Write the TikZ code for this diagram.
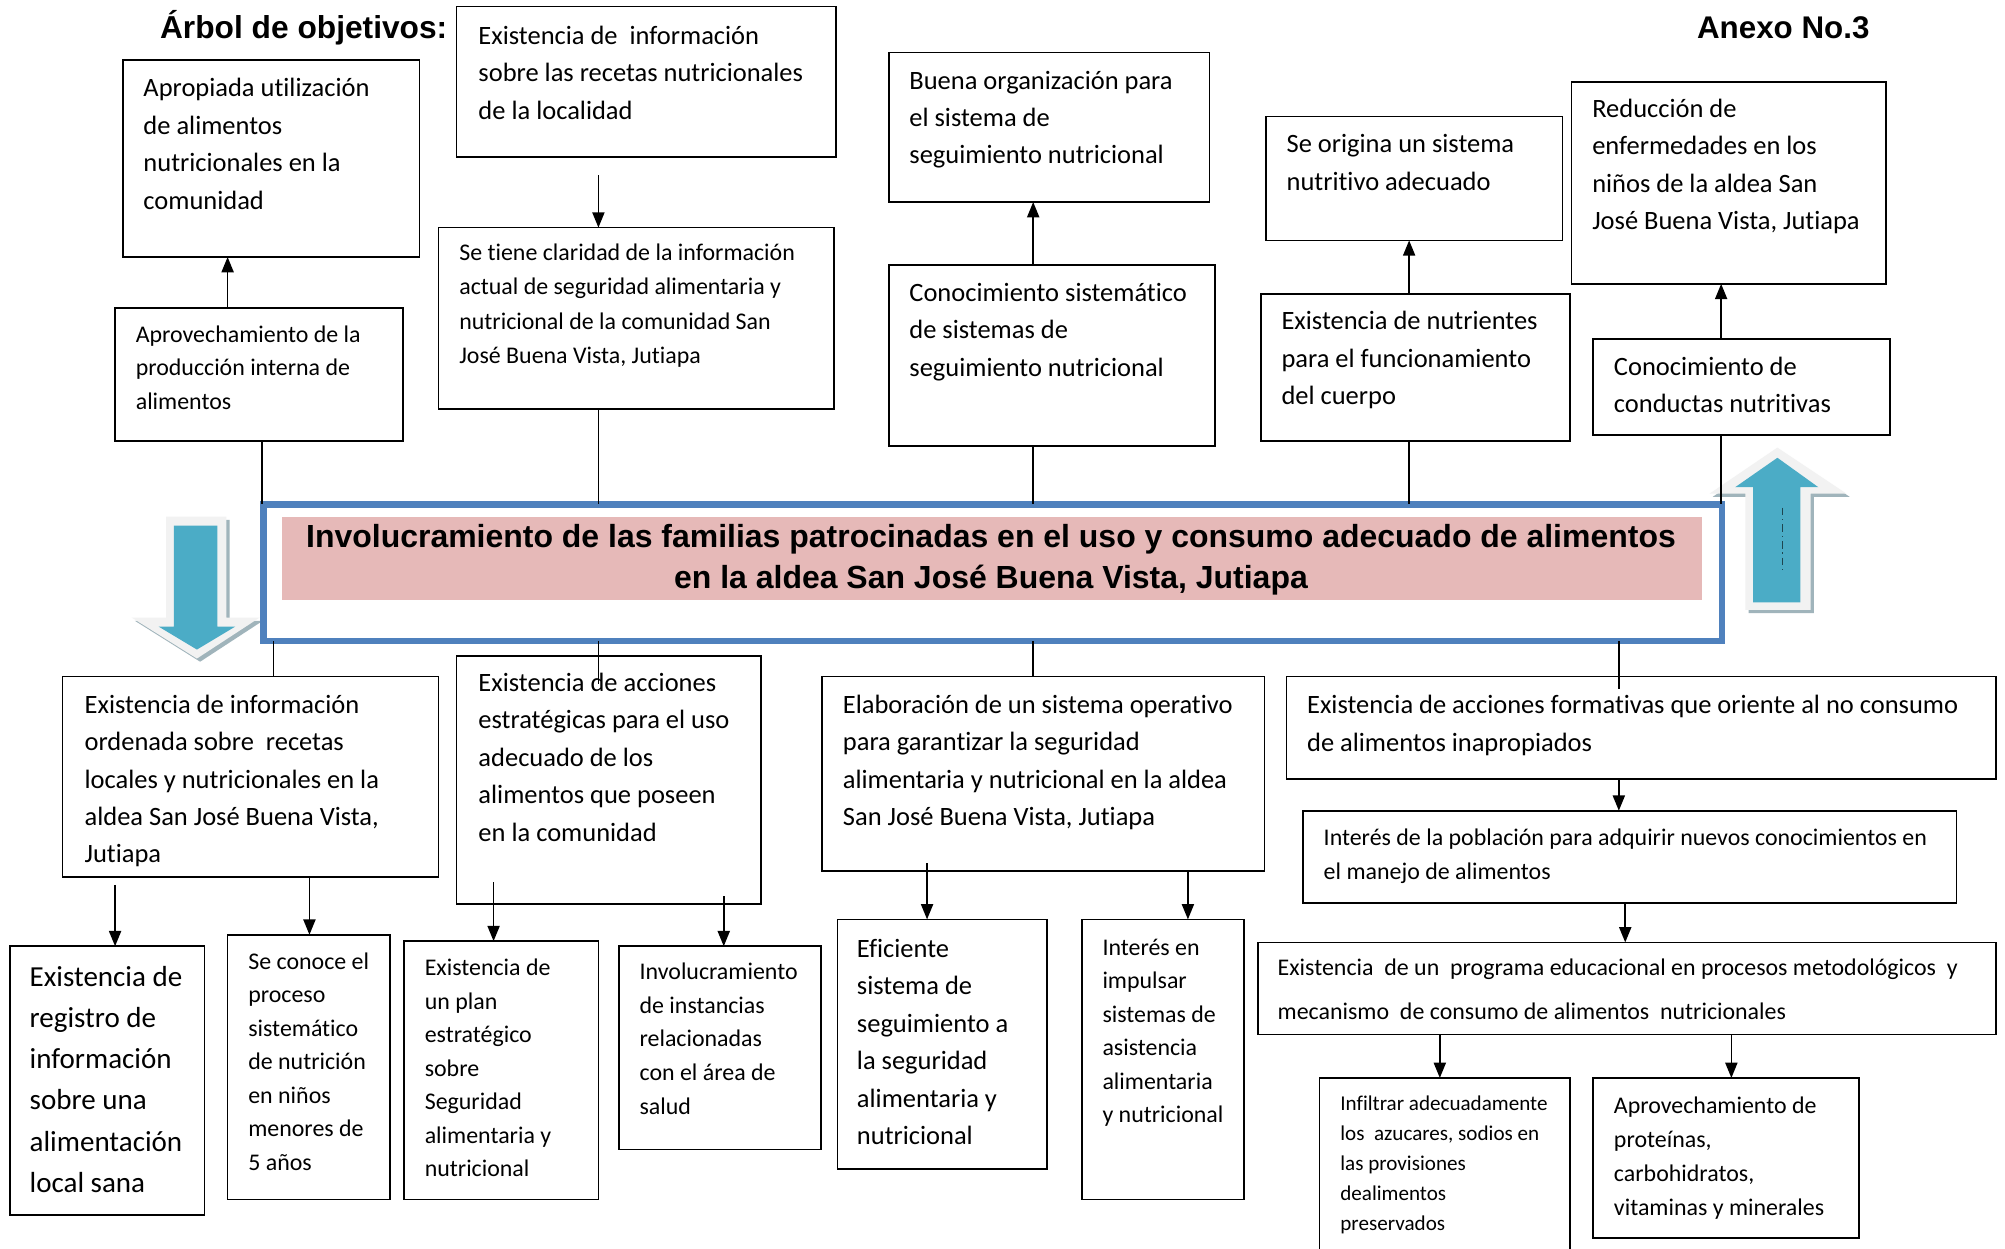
\documentclass[tikz,border=0pt]{standalone}
\usepackage{fontspec}
\setmainfont{Carlito}[Ligatures=NoCommon]
\newfontfamily\arialf{Liberation Sans}
\usetikzlibrary{arrows.meta}
\definecolor{bord}{RGB}{79,129,189}
\definecolor{pinkf}{RGB}{230,185,184}
\definecolor{arrblue}{RGB}{75,172,198}
\definecolor{arrout}{RGB}{242,242,242}
\definecolor{arrshadow}{RGB}{160,180,187}
\definecolor{dashc}{RGB}{30,70,80}
\newcommand\mybox[5]{\pgfmathsetmacro\mybw{#4-#2}\pgfmathsetmacro\mybh{#5-#3}%
  \node[boxst, minimum width=\mybw pt, minimum height=\mybh pt] (#1) at (#2,#3) {};}
\newcommand\mytext[6]{\pgfmathsetmacro\mytop{#3-0.54*#4}%
  \node[txtst, font=\fontsize{#4}{#5}\selectfont] (#1) at (#2,\mytop) {\rule{0pt}{0.9em}#6};}
\begin{document}
\begin{tikzpicture}[x=1pt,y=-1pt,
  boxst/.style={draw, line width=1.3pt, inner sep=0pt, outer sep=0pt, anchor=north west},
  txtst/.style={inner sep=0pt, anchor=north west, align=left},
  arr/.style={line width=1.3pt, -{Triangle[length=12pt,width=9.5pt]}},
  ln/.style={line width=1.3pt}]
\useasboundingbox[fill=white] (0,0) rectangle (1568,976);

% titles
\node[anchor=base west, inner sep=0pt, font=\arialf\bfseries\fontsize{24.8}{28}\selectfont] (titulo) at (125,30) {Árbol de objetivos:};
\node[anchor=base west, inner sep=0pt, font=\arialf\bfseries\fontsize{24.5}{28}\selectfont] (anexo) at (1327,30) {Anexo No.3};

% 3D block arrows
\fill[arrshadow] (132.5,406.5) -- (179.5,406.5) -- (179.5,485.5) -- (205.5,485.5) -- (156.5,517.5) -- (105.5,485.5) -- (132.5,485.5) -- cycle;
\fill[arrout] (130,404) -- (177,404) -- (177,483) -- (203,483) -- (154,515) -- (103,483) -- (130,483) -- cycle;
\fill[arrblue] (136,411) -- (170,411) -- (170,490) -- (184,490) -- (154,508) -- (124,490) -- (136,490) -- cycle;

\fill[arrshadow] (1392.5,352.5) -- (1446.5,388.5) -- (1418.5,388.5) -- (1418.5,479.5) -- (1367.5,479.5) -- (1367.5,388.5) -- (1339.5,388.5) -- cycle;
\fill[arrout] (1390,350) -- (1444,386) -- (1416,386) -- (1416,477) -- (1365,477) -- (1365,386) -- (1337,386) -- cycle;
\fill[arrblue] (1390,358) -- (1422,381) -- (1408,381) -- (1408,471) -- (1371,471) -- (1371,381) -- (1357,381) -- cycle;
\draw[line width=0.8pt, dashc, dash pattern=on 6pt off 3pt on 1pt off 3pt] (1394,397) -- (1394,446);

% central problem box
\node[draw=bord, line width=5pt, inner sep=0pt, outer sep=0pt, anchor=north west, minimum width=1140.5pt, minimum height=107pt] (cent) at (206,394.5) {};
\node[fill=pinkf, inner sep=0pt, outer sep=0pt, anchor=north west, minimum width=1110.5pt, minimum height=65pt] (pink) at (220.5,404) {};
\node[anchor=north, inner sep=0pt, align=center, font=\arialf\bfseries\fontsize{25}{32}\selectfont] (ctext) at (775,405.5) {\rule{0pt}{0.9em}Involucramiento de las familias patrocinadas en el uso y consumo adecuado de alimentos\\en la aldea San José Buena Vista, Jutiapa};

% boxes
\mybox{a1}{96}{47}{328}{201}
\mybox{a2}{90}{241}{315}{345}
\mybox{b1}{357}{5}{654}{123}
\mybox{b2}{343}{178}{652}{320}
\mybox{c1}{695}{41}{946}{158}
\mybox{c2}{695}{207}{950}{349}
\mybox{d1}{990}{91}{1222}{188}
\mybox{d2}{986}{230}{1228}{345}
\mybox{e1}{1229}{64}{1475}{222}
\mybox{e2}{1246}{265}{1478}{340}
\mybox{f1}{49}{529}{343}{686}
\mybox{f2}{8}{740}{160}{950}
\mybox{f3}{178}{731}{305}{938}
\mybox{g1}{357}{513}{595}{707}
\mybox{g2}{316}{736}{468}{938}
\mybox{g3}{484}{740}{642}{899}
\mybox{h1}{643}{529}{989}{681}
\mybox{h2}{655}{719}{819}{914}
\mybox{h3}{846}{719}{973}{938}
\mybox{i1}{1006}{529}{1561}{609}
\mybox{i2}{1019}{634}{1530}{706}
\mybox{i3}{984}{737}{1561}{809}
\mybox{i4}{1032}{843}{1228}{995}
\mybox{i5}{1246}{843}{1454}{968}

% texts
\mytext{a1t}{112}{68}{20.7}{29.3}{Apropiada utilización\\de alimentos\\nutricionales en la\\comunidad}
\mytext{a2t}{106}{261}{18.7}{26}{Aprovechamiento de la\\producción interna de\\alimentos}
\mytext{b1t}{374}{27}{20.7}{29.3}{Existencia de~ información\\sobre las recetas nutricionales\\de la localidad}
\mytext{b2t}{359}{197}{18.7}{26.7}{Se tiene claridad de la información\\actual de seguridad alimentaria y\\nutricional de la comunidad San\\José Buena Vista, Jutiapa}
\mytext{c1t}{711}{62}{20.7}{29.3}{Buena organización para\\el sistema de\\seguimiento nutricional}
\mytext{c2t}{711}{228}{20.7}{29.3}{Conocimiento sistemático\\de sistemas de\\seguimiento nutricional}
\mytext{d1t}{1006}{112}{20.7}{29.3}{Se origina un sistema\\nutritivo adecuado}
\mytext{d2t}{1002}{250}{20.7}{29.5}{Existencia de nutrientes\\para el funcionamiento\\del cuerpo}
\mytext{e1t}{1245}{84}{20.7}{29.3}{Reducción de\\enfermedades en los\\niños de la aldea San\\José Buena Vista, Jutiapa}
\mytext{e2t}{1262}{286}{20.7}{29.3}{Conocimiento de\\conductas nutritivas}
\mytext{f1t}{66}{550}{20.7}{29.3}{Existencia de información\\ordenada sobre~ recetas\\locales y nutricionales en la\\aldea San José Buena Vista,\\Jutiapa}
\mytext{f2t}{23}{763}{22.7}{32.2}{Existencia de\\registro de\\información\\sobre una\\alimentación\\local sana}
\mytext{f3t}{194}{751}{18.7}{26.2}{Se conoce el\\proceso\\sistemático\\de nutrición\\en niños\\menores de\\5 años}
\mytext{g1t}{374}{533}{20.7}{29.3}{Existencia de acciones\\estratégicas para el uso\\adecuado de los\\alimentos que poseen\\en la comunidad}
\mytext{g2t}{332}{756}{18.7}{26.2}{Existencia de\\un plan\\estratégico\\sobre\\Seguridad\\alimentaria y\\nutricional}
\mytext{g3t}{500}{759}{18.7}{26.4}{Involucramiento\\de instancias\\relacionadas\\con el área de\\salud}
\mytext{h1t}{659}{550}{20.7}{29.3}{Elaboración de un sistema operativo\\para garantizar la seguridad\\alimentaria y nutricional en la aldea\\San José Buena Vista, Jutiapa}
\mytext{h2t}{670}{741}{20.7}{29.3}{Eficiente\\sistema de\\seguimiento a\\la seguridad\\alimentaria y\\nutricional}
\mytext{h3t}{862}{740}{18.7}{26.2}{Interés en\\impulsar\\sistemas de\\asistencia\\alimentaria\\y nutricional}
\mytext{i1t}{1022}{550}{20.7}{30}{Existencia de acciones formativas que oriente al no consumo\\de alimentos inapropiados}
\mytext{i2t}{1035}{654}{18.7}{26.7}{Interés de la población para adquirir nuevos conocimientos en\\el manejo de alimentos}
\mytext{i3t}{999}{756}{18.7}{34}{Existencia~ de un~ programa educacional en procesos metodológicos~ y\\mecanismo~ de consumo de alimentos~ nutricionales}
\mytext{i4t}{1048}{862}{16.5}{23.5}{Infiltrar adecuadamente\\los~ azucares, sodios en\\las provisiones\\dealimentos\\preservados}
\mytext{i5t}{1262}{864}{18.7}{26.6}{Aprovechamiento de\\proteínas,\\carbohidratos,\\vitaminas y minerales}

% x positions of connectors
\coordinate (xa) at (178,0);
\coordinate (xa2) at (205,0);
\coordinate (xb) at (468,0);
\coordinate (xc) at (808,0);
\coordinate (xd) at (1102,0);
\coordinate (xe) at (1346,0);
\coordinate (xf) at (214,0);
\coordinate (xi) at (1266,0);
\coordinate (xf2) at (90,0);
\coordinate (xf3) at (242,0);
\coordinate (xg2) at (386,0);
\coordinate (xg3) at (566,0);
\coordinate (xh2) at (725,0);
\coordinate (xh3) at (929,0);
\coordinate (xi3) at (1271,0);
\coordinate (xi4) at (1126,0);
\coordinate (xi5) at (1354,0);
% free ends
\coordinate (b1s) at (468,137);
\coordinate (g1in) at (468,535);
\coordinate (i1in) at (1266,539);
\coordinate (f1s) at (90,692);
\coordinate (g1s2) at (386,690);
\coordinate (g1s3) at (566,701);
\coordinate (h1s2) at (725,675);

% connectors, upper part
\draw[arr] (a2.north -| xa) -- (a1.south -| xa);
\draw[ln] (a2.south -| xa2) -- (cent.north -| xa2);
\draw[arr] (b1s) -- (b2.north -| xb);
\draw[ln] (b2.south -| xb) -- (cent.north -| xb);
\draw[arr] (c2.north -| xc) -- (c1.south -| xc);
\draw[ln] (c2.south -| xc) -- (cent.north -| xc);
\draw[arr] (d2.north -| xd) -- (d1.south -| xd);
\draw[ln] (d2.south -| xd) -- (cent.north -| xd);
\draw[arr] (e2.north -| xe) -- (e1.south -| xe);
\draw[ln] (e2.south -| xe) -- (cent.north -| xe);

% connectors, lower part
\draw[ln] (cent.south -| xf) -- (f1.north -| xf);
\draw[ln] (cent.south -| xb) -- (g1in);
\draw[ln] (cent.south -| xc) -- (h1.north -| xc);
\draw[ln] (cent.south -| xi) -- (i1in);
\draw[arr] (f1s) -- (f2.north -| xf2);
\draw[arr] (f1.south -| xf3) -- (f3.north -| xf3);
\draw[arr] (g1s2) -- (g2.north -| xg2);
\draw[arr] (g1s3) -- (g3.north -| xg3);
\draw[arr] (h1s2) -- (h2.north -| xh2);
\draw[arr] (h1.south -| xh3) -- (h3.north -| xh3);
\draw[arr] (i1.south -| xi) -- (i2.north -| xi);
\draw[arr] (i2.south -| xi3) -- (i3.north -| xi3);
\draw[arr] (i3.south -| xi4) -- (i4.north -| xi4);
\draw[arr] (i3.south -| xi5) -- (i5.north -| xi5);
\end{tikzpicture}
\end{document}
